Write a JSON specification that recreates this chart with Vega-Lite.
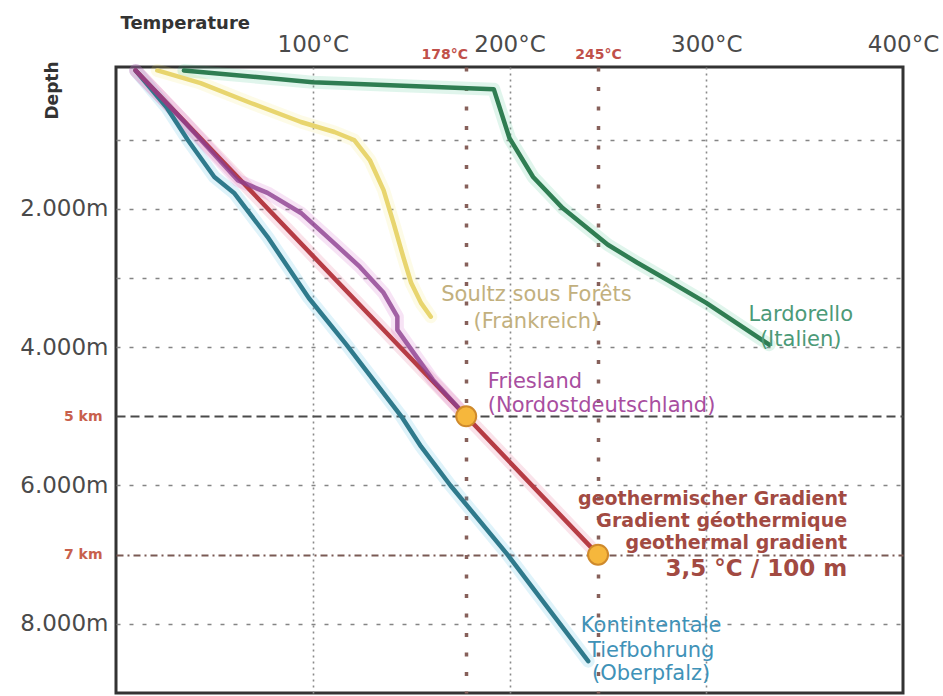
{
  "$schema": "https://vega.github.io/schema/vega-lite/v6.json",
  "width": 787,
  "height": 626,
  "autosize": "none",
  "padding": {"left": 116, "top": 67, "right": 40, "bottom": 3},
  "background": "white",
  "config": {
    "view": {"stroke": "#333333", "strokeWidth": 3},
    "font": "DejaVu Sans",
    "axis": {"labelFont": "DejaVu Sans", "titleFont": "DejaVu Sans"}
  },
  "datasets": {
    "profiles": [
      {"series": "Kontinentale", "temp": 10, "depth": 0},
      {"series": "Kontinentale", "temp": 26, "depth": 545},
      {"series": "Kontinentale", "temp": 36.5, "depth": 1005},
      {"series": "Kontinentale", "temp": 50, "depth": 1540},
      {"series": "Kontinentale", "temp": 60, "depth": 1770},
      {"series": "Kontinentale", "temp": 77, "depth": 2405},
      {"series": "Kontinentale", "temp": 98, "depth": 3290},
      {"series": "Kontinentale", "temp": 117, "depth": 3960},
      {"series": "Kontinentale", "temp": 145, "depth": 5000},
      {"series": "Kontinentale", "temp": 155, "depth": 5435},
      {"series": "Kontinentale", "temp": 170, "depth": 6000},
      {"series": "Kontinentale", "temp": 199, "depth": 7000},
      {"series": "Kontinentale", "temp": 240, "depth": 8540},
      {"series": "Soultz", "temp": 21, "depth": 0},
      {"series": "Soultz", "temp": 43, "depth": 183},
      {"series": "Soultz", "temp": 68.5, "depth": 470},
      {"series": "Soultz", "temp": 94, "depth": 745},
      {"series": "Soultz", "temp": 111, "depth": 890},
      {"series": "Soultz", "temp": 121, "depth": 1005},
      {"series": "Soultz", "temp": 129, "depth": 1295},
      {"series": "Soultz", "temp": 136, "depth": 1730},
      {"series": "Soultz", "temp": 141, "depth": 2200},
      {"series": "Soultz", "temp": 146, "depth": 2695},
      {"series": "Soultz", "temp": 150, "depth": 3070},
      {"series": "Soultz", "temp": 155, "depth": 3360},
      {"series": "Soultz", "temp": 160, "depth": 3560},
      {"series": "Lardorello", "temp": 34.5, "depth": 0},
      {"series": "Lardorello", "temp": 100, "depth": 170},
      {"series": "Lardorello", "temp": 192, "depth": 270},
      {"series": "Lardorello", "temp": 200, "depth": 980},
      {"series": "Lardorello", "temp": 212, "depth": 1540},
      {"series": "Lardorello", "temp": 227, "depth": 1990},
      {"series": "Lardorello", "temp": 250, "depth": 2520},
      {"series": "Lardorello", "temp": 265, "depth": 2780},
      {"series": "Lardorello", "temp": 280, "depth": 3025},
      {"series": "Lardorello", "temp": 300, "depth": 3360},
      {"series": "Lardorello", "temp": 332, "depth": 3965},
      {"series": "Gradient", "temp": 10, "depth": 0},
      {"series": "Gradient", "temp": 178, "depth": 5000},
      {"series": "Gradient", "temp": 245, "depth": 7000},
      {"series": "Friesland", "temp": 10, "depth": 0},
      {"series": "Friesland", "temp": 35, "depth": 750},
      {"series": "Friesland", "temp": 62, "depth": 1590},
      {"series": "Friesland", "temp": 77, "depth": 1770},
      {"series": "Friesland", "temp": 94, "depth": 2060},
      {"series": "Friesland", "temp": 111, "depth": 2500},
      {"series": "Friesland", "temp": 124, "depth": 2840},
      {"series": "Friesland", "temp": 136, "depth": 3215},
      {"series": "Friesland", "temp": 143, "depth": 3560},
      {"series": "Friesland", "temp": 143, "depth": 3750},
      {"series": "Friesland", "temp": 161, "depth": 4470},
      {"series": "Friesland", "temp": 178, "depth": 5000}
    ],
    "marks": [
      {"temp": 178, "depth": 5000},
      {"temp": 245, "depth": 7000}
    ],
    "labels": [
      {"of": "Soultz", "text": "Soultz sous Forêts", "temp": 213.7, "depth": 3240},
      {"of": "Soultz", "text": "(Frankreich)", "temp": 213.7, "depth": 3630},
      {"of": "Lardorello", "text": "Lardorello", "temp": 348, "depth": 3530},
      {"of": "Lardorello", "text": "(Italien)", "temp": 348, "depth": 3890},
      {"of": "Kontinentale", "text": "Kontintentale", "temp": 272, "depth": 8030},
      {"of": "Kontinentale", "text": "Tiefbohrung", "temp": 272, "depth": 8390},
      {"of": "Kontinentale", "text": "(Oberpfalz)", "temp": 272, "depth": 8725},
      {"of": "Friesland", "text": "Friesland", "temp": 189, "depth": 4510},
      {"of": "Friesland", "text": "(Nordostdeutschland)", "temp": 189, "depth": 4857},
      {"of": "Gradient", "text": "geothermischer Gradient", "temp": 371.6, "depth": 6190},
      {"of": "Gradient", "text": "Gradient géothermique", "temp": 371.6, "depth": 6510},
      {"of": "Gradient", "text": "geothermal gradient", "temp": 371.6, "depth": 6830},
      {"of": "GradientValue", "text": "3,5 °C / 100 m", "temp": 371.6, "depth": 7210}
    ]
  },
  "encoding": {
    "x": {
      "field": "temp",
      "type": "quantitative",
      "scale": {"domain": [0, 400], "nice": false, "zero": false},
      "axis": {
        "orient": "top",
        "values": [100, 178, 200, 245, 300, 400],
        "labelExpr": "datum.value + '°C'",
        "domain": false,
        "ticks": false,
        "tickSize": 0,
        "labelOverlap": false,
        "labelFlush": false,
        "labelBaseline": "alphabetic",
        "labelPadding": {"condition": {"test": "datum.value == 178 || datum.value == 245", "value": 9}, "value": 16},
        "labelOffset": {"condition": {"test": "datum.value == 178", "value": -22}, "value": 0},
        "labelColor": {"condition": {"test": "datum.value == 178 || datum.value == 245", "value": "#c0504a"}, "value": "#4a4a4a"},
        "labelFontSize": {"condition": {"test": "datum.value == 178 || datum.value == 245", "value": 14}, "value": 23},
        "labelFontWeight": {"condition": {"test": "datum.value == 178 || datum.value == 245", "value": "bold"}, "value": "normal"},
        "grid": true,
        "gridColor": {"condition": {"test": "datum.value == 178 || datum.value == 245", "value": "#86605a"}, "value": "#8a8a8a"},
        "gridDash": {"condition": {"test": "datum.value == 178 || datum.value == 245", "value": [4, 15.5]}, "value": [2, 4]},
        "gridWidth": {"condition": {"test": "datum.value == 178 || datum.value == 245", "value": 3.5}, "value": 1.6},
        "gridOpacity": {"condition": {"test": "datum.value == 400", "value": 0}, "value": 1},
        "title": "Temperature",
        "titleFontSize": 18,
        "titleFontWeight": "bold",
        "titleColor": "#333333",
        "titleAngle": 0,
        "titleAlign": "left",
        "titleBaseline": "alphabetic",
        "titleX": 4,
        "titleY": -39
      }
    },
    "y": {
      "field": "depth",
      "type": "quantitative",
      "scale": {"domain": [-50, 9000], "reverse": true, "nice": false, "zero": false},
      "axis": {
        "values": [1000, 2000, 3000, 4000, 5000, 6000, 7000, 8000],
        "labelExpr": "datum.value == 5000 ? '5 km' : datum.value == 7000 ? '7 km' : (datum.value % 2000 == 0 ? (datum.value / 1000) + '.000m' : '')",
        "domain": false,
        "ticks": false,
        "tickSize": 0,
        "labelOverlap": false,
        "labelFlush": false,
        "labelBaseline": "middle",
        "labelPadding": {"condition": {"test": "datum.value == 5000 || datum.value == 7000", "value": 14}, "value": 8},
        "labelColor": {"condition": {"test": "datum.value == 5000 || datum.value == 7000", "value": "#c8604c"}, "value": "#4a4a4a"},
        "labelFontSize": {"condition": {"test": "datum.value == 5000 || datum.value == 7000", "value": 14}, "value": 23},
        "labelFontWeight": {"condition": {"test": "datum.value == 5000 || datum.value == 7000", "value": "bold"}, "value": "normal"},
        "grid": true,
        "gridColor": {"condition": [{"test": "datum.value == 5000", "value": "#4a4a4a"}, {"test": "datum.value == 7000", "value": "#7a5a54"}], "value": "#858585"},
        "gridDash": {"condition": [{"test": "datum.value == 5000", "value": [9, 5]}, {"test": "datum.value == 7000", "value": [7, 4, 2, 4]}], "value": [4, 9]},
        "gridWidth": {"condition": {"test": "datum.value == 5000 || datum.value == 7000", "value": 2}, "value": 1.7},
        "title": "Depth",
        "titleFontSize": 17,
        "titleFontWeight": "bold",
        "titleColor": "#333333",
        "titleAngle": -90,
        "titleAlign": "center",
        "titleBaseline": "middle",
        "titleX": -64,
        "titleY": 23
      }
    }
  },
  "layer": [
    {
      "data": {"name": "profiles"},
      "mark": {"type": "line", "strokeWidth": 13, "opacity": 0.16, "strokeCap": "round", "strokeJoin": "round"},
      "encoding": {
        "order": {"field": "depth", "type": "quantitative"},
        "color": {
          "field": "series",
          "type": "nominal",
          "scale": {"domain": ["Kontinentale", "Soultz", "Lardorello", "Gradient", "Friesland"], "range": ["#35b6e0", "#f2e46a", "#3fc28a", "#e0507a", "#d050c0"]},
          "legend": null
        }
      }
    },
    {
      "data": {"name": "profiles"},
      "transform": [{"filter": "datum.series != 'Friesland'"}],
      "mark": {"type": "line", "strokeWidth": 4.5, "strokeCap": "round", "strokeJoin": "round"},
      "encoding": {
        "order": {"field": "depth", "type": "quantitative"},
        "color": {
          "field": "series",
          "type": "nominal",
          "scale": {"domain": ["Kontinentale", "Soultz", "Lardorello", "Gradient"], "range": ["#2f7a8c", "#e8d56e", "#2f7d52", "#b63c44"]},
          "legend": null
        }
      }
    },
    {
      "data": {"name": "profiles"},
      "transform": [{"filter": "datum.series == 'Friesland'"}],
      "mark": {"type": "line", "strokeWidth": 4.5, "strokeCap": "round", "strokeJoin": "round", "color": "#8c3f90", "opacity": 0.8},
      "encoding": {
        "order": {"field": "depth", "type": "quantitative"}
      }
    },
    {
      "data": {"name": "marks"},
      "mark": {"type": "point", "filled": true, "shape": "circle", "size": 400, "color": "#f6b73c", "stroke": "#cf8a2c", "strokeWidth": 2, "opacity": 1}
    },
    {
      "data": {"name": "labels"},
      "transform": [{"filter": "datum.of == 'Soultz' || datum.of == 'Lardorello' || datum.of == 'Kontinentale'"}],
      "mark": {"type": "text", "align": "center", "baseline": "middle", "fontSize": 21, "font": "DejaVu Sans"},
      "encoding": {
        "text": {"field": "text"},
        "color": {
          "field": "of",
          "type": "nominal",
          "scale": {"domain": ["Soultz", "Lardorello", "Kontinentale"], "range": ["#c2b07e", "#4c9a78", "#3f92b8"]},
          "legend": null
        }
      }
    },
    {
      "data": {"name": "labels"},
      "transform": [{"filter": "datum.of == 'Friesland'"}],
      "mark": {"type": "text", "align": "left", "baseline": "middle", "fontSize": 21, "font": "DejaVu Sans", "color": "#a84ea0"},
      "encoding": {"text": {"field": "text"}}
    },
    {
      "data": {"name": "labels"},
      "transform": [{"filter": "datum.of == 'Gradient'"}],
      "mark": {"type": "text", "align": "right", "baseline": "middle", "fontSize": 19, "fontWeight": "bold", "font": "DejaVu Sans", "color": "#a24a42"},
      "encoding": {"text": {"field": "text"}}
    },
    {
      "data": {"name": "labels"},
      "transform": [{"filter": "datum.of == 'GradientValue'"}],
      "mark": {"type": "text", "align": "right", "baseline": "middle", "fontSize": 23, "fontWeight": "bold", "font": "DejaVu Sans", "color": "#a24a42"},
      "encoding": {"text": {"field": "text"}}
    }
  ],
  "resolve": {"scale": {"color": "independent"}}
}
